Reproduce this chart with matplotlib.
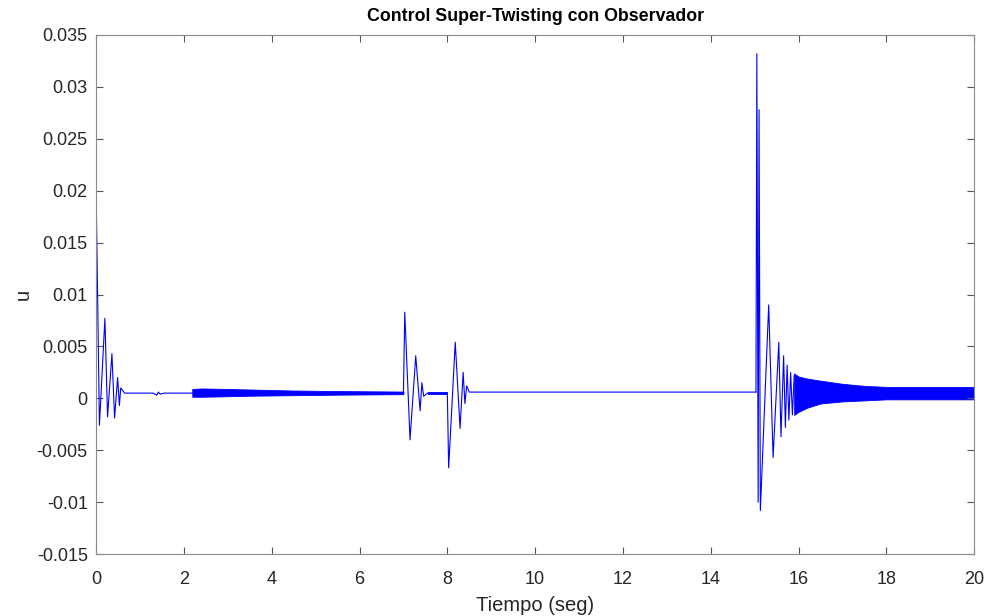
import matplotlib
matplotlib.use('Agg')
import matplotlib.pyplot as plt

plt.rcParams['font.family'] = ['Liberation Sans', 'DejaVu Sans']

# transient vertices (t in s, u)
t_start = [0.0, 0.075, 0.2, 0.26, 0.36, 0.42, 0.49, 0.53, 0.56, 0.65, 1.3, 1.38, 1.42, 1.46, 1.55, 2.19]
u_start = [0.0200, -0.0026, 0.0077, -0.0018, 0.0043, -0.0019, 0.0020, -0.0007, 0.0010, 0.0005,
           0.0005, 0.0003, 0.0006, 0.0004, 0.0005, 0.0005]

t_first = [7.0, 7.03, 7.15, 7.28, 7.38, 7.42, 7.46, 7.55]
u_first = [0.0005, 0.0083, -0.0040, 0.0041, -0.0012, 0.0015, 0.0002, 0.0005]

t_second = [8.0, 8.03, 8.18, 8.29, 8.36, 8.40, 8.44, 8.5, 15.03]
u_second = [0.0005, -0.0067, 0.0054, -0.0029, 0.0025, -0.0005, 0.0012, 0.0006, 0.0006]

t_big = [15.03, 15.05, 15.08, 15.10, 15.13, 15.32, 15.42, 15.55, 15.60, 15.66, 15.70,
         15.74, 15.78, 15.82, 15.86, 15.9]
u_big = [0.0006, 0.0332, -0.0100, 0.0278, -0.0108, 0.0090, -0.0057, 0.0054, -0.0037, 0.0041,
         -0.0028, 0.0032, -0.0021, 0.0025, -0.0016, 0.0022]

# chattering bands (too dense to see single cycles): envelope upper / lower
t_band1 = [2.19, 2.4, 3.0, 3.5, 4.5, 5.5, 7.0]
hi_band1 = [0.0009, 0.00095, 0.0009, 0.00085, 0.00075, 0.0007, 0.00065]
lo_band1 = [0.00015, 0.00015, 0.0002, 0.00025, 0.0003, 0.00035, 0.0004]

t_band2 = [7.55, 8.0]
hi_band2 = [0.00065, 0.00065]
lo_band2 = [0.0004, 0.0004]

t_band3 = [15.9, 16.0, 16.2, 16.5, 17.0, 17.5, 18.0, 20.0]
hi_band3 = [0.0024, 0.0021, 0.0019, 0.0017, 0.0014, 0.0012, 0.0011, 0.0011]
lo_band3 = [-0.0016, -0.0013, -0.0009, -0.0005, -0.0003, -0.0002, -0.0001, -0.0001]

x_ticks = [0, 2, 4, 6, 8, 10, 12, 14, 16, 18, 20]
y_ticks = [-0.015, -0.01, -0.005, 0, 0.005, 0.01, 0.015, 0.02, 0.025, 0.03, 0.035]
y_labels = ['-0.015', '-0.01', '-0.005', '0', '0.005', '0.01', '0.015', '0.02', '0.025', '0.03', '0.035']

blue = '#0000ff'

fig = plt.figure(figsize=(9.91, 6.16), dpi=100)
ax = fig.add_axes([0.097, 0.1006, 0.886, 0.8426])

for t, u in [(t_start, u_start), (t_first, u_first), (t_second, u_second), (t_big, u_big)]:
    ax.plot(t, u, color=blue, linewidth=0.8)

for t, hi, lo in [(t_band1, hi_band1, lo_band1), (t_band2, hi_band2, lo_band2),
                  (t_band3, hi_band3, lo_band3)]:
    ax.fill_between(t, lo, hi, color=blue, linewidth=0.6, edgecolor=blue)

ax.set_xlim(0, 20)
ax.set_ylim(-0.015, 0.035)
ax.set_xticks(x_ticks)
ax.set_yticks(y_ticks)
ax.set_yticklabels(y_labels)

ax.tick_params(direction='in', top=True, right=True, length=5, width=0.8,
               colors='#555555', labelcolor='#262626', labelsize=13)
ax.tick_params(axis='x', pad=12)
ax.tick_params(axis='y', pad=6)
for s in ax.spines.values():
    s.set_color('#8a8a8a')
    s.set_linewidth(0.8)

ax.set_title('Control Super-Twisting con Observador', fontsize=12.8, fontweight='bold', pad=10)
ax.set_xlabel('Tiempo (seg)', fontsize=14.5, color='#262626', labelpad=6)
ax.set_ylabel('u', fontsize=14.5, color='#262626', labelpad=3)

fig.savefig('out.png', dpi=100)
